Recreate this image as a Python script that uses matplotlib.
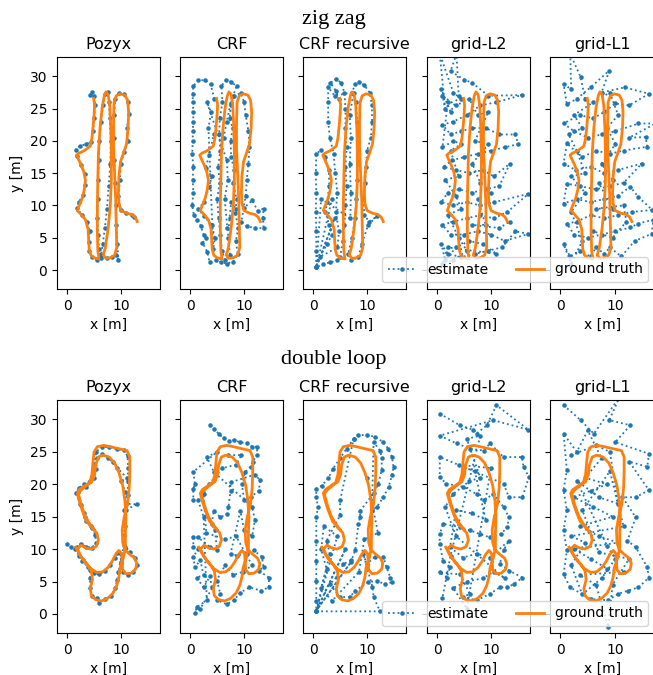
import numpy as np
import matplotlib
matplotlib.use('Agg')
import matplotlib.pyplot as plt

plt.rcParams['font.size'] = 10

METHODS = ['Pozyx', 'CRF', 'CRF recursive', 'grid-L2', 'grid-L1']
ROWS = ['zig zag', 'double loop']

# ground truth paths (x, y) in metres
gt_zigzag = [
    (4.9, 26.6), (5.1, 25.6), (5.0, 24.0), (4.8, 22.0), (4.6, 20.4), (4.3, 19.2), (3.2, 18.5),
    (2.2, 18.1), (1.8, 17.8), (2.1, 17.2), (2.6, 16.3), (3.1, 15.2), (3.4, 13.9), (3.2, 12.5),
    (2.8, 11.1), (2.2, 9.9), (1.9, 9.2), (2.5, 8.7), (3.4, 7.8), (3.9, 6.3), (4.0, 4.6),
    (4.1, 3.2), (4.4, 2.3), (5.0, 1.9), (5.9, 1.7), (5.7, 3.0), (5.6, 6.0), (5.6, 10.0),
    (5.7, 14.0), (5.8, 18.0), (6.1, 22.0), (6.5, 25.2), (6.9, 27.0), (7.2, 27.6), (7.6, 27.2),
    (7.9, 25.5), (8.1, 22.0), (8.2, 18.0), (8.2, 14.0), (8.0, 10.0), (7.6, 6.5), (7.1, 3.5),
    (6.7, 2.3), (7.2, 1.8), (8.0, 1.9), (8.8, 2.3), (9.2, 3.5), (9.1, 7.0), (9.0, 11.0),
    (8.8, 15.0), (8.6, 19.0), (8.6, 23.0), (8.7, 26.0), (9.1, 27.0), (9.8, 27.3), (10.7, 27.1),
    (11.2, 26.3), (11.4, 24.5), (11.3, 22.0), (11.0, 19.5), (10.4, 18.0), (9.9, 16.8), (9.6, 14.5),
    (9.5, 12.0), (9.6, 10.3), (10.0, 9.2), (11.0, 8.8), (12.0, 8.6), (12.6, 8.2), (13.0, 7.5),
]
gt_doubleloop = [
    (1.6, 10.3), (2.3, 9.2), (3.3, 8.0), (4.4, 7.0), (5.5, 6.4), (6.6, 6.5), (7.6, 7.2),
    (8.4, 8.2), (9.0, 9.2), (9.6, 9.8), (10.1, 9.3), (10.2, 8.0), (10.3, 6.8), (10.9, 6.2),
    (11.9, 6.3), (12.7, 6.9), (12.9, 7.8), (12.5, 8.6), (11.6, 9.2), (10.7, 9.9), (10.3, 11.0),
    (10.2, 13.0), (10.6, 15.0), (11.2, 17.0), (11.5, 19.5), (11.6, 22.0), (11.6, 24.2), (11.1, 25.2),
    (9.5, 25.5), (8.0, 25.8), (6.8, 26.0), (5.6, 25.8), (5.0, 25.0), (4.8, 23.5), (4.6, 21.5),
    (4.2, 20.3), (3.2, 19.7), (2.3, 19.2), (1.9, 18.6), (2.3, 17.3), (2.8, 16.0), (3.6, 14.3),
    (4.6, 13.3), (5.5, 12.5), (5.8, 11.4), (5.4, 10.4), (4.4, 10.0), (3.4, 10.2), (2.6, 10.6),
    (1.9, 10.0), (2.6, 8.8), (3.7, 7.7), (4.5, 6.6), (4.7, 5.3), (4.3, 3.9), (4.5, 2.8),
    (5.3, 2.2), (6.4, 2.0), (7.5, 2.4), (8.5, 3.2), (9.2, 4.4), (9.6, 5.7), (9.8, 7.1),
    (10.4, 8.6), (10.8, 10.2), (10.8, 12.5), (10.9, 15.0), (10.7, 17.5), (10.3, 19.8), (9.6, 21.8),
    (8.8, 23.3), (7.8, 24.2), (6.6, 24.5), (5.8, 24.2), (5.3, 23.0), (5.1, 21.5), (4.6, 20.4),
    (3.6, 19.8), (2.6, 19.1), (2.1, 18.5), (2.6, 16.9), (3.3, 15.2), (4.1, 14.0), (5.0, 13.0),
]

# estimates, zig zag
pozyx_zz = [
    (4.2, 27.1), (4.7, 27.6), (5.0, 27.0), (5.2, 25.5), (5.0, 23.5), (4.8, 21.5), (4.4, 19.8),
    (3.5, 19.5), (2.4, 19.2), (1.6, 18.6), (1.8, 17.6), (2.6, 16.3), (3.3, 14.9), (3.4, 13.2),
    (3.0, 11.6), (2.2, 10.6), (1.8, 9.6), (2.7, 8.6), (3.7, 7.4), (4.2, 6.0), (4.0, 4.4),
    (4.1, 3.0), (4.7, 2.0), (5.5, 1.6), (6.3, 1.9), (5.9, 3.2), (5.8, 5.5), (5.6, 8.0),
    (5.7, 11.0), (5.7, 14.0), (5.9, 17.0), (6.0, 20.0), (6.3, 23.0), (6.6, 25.5), (7.0, 27.3),
    (7.5, 27.6), (7.8, 26.0), (7.9, 23.5), (8.1, 20.0), (8.0, 16.5), (7.7, 13.0), (7.4, 9.5),
    (7.0, 6.5), (6.6, 4.0), (6.3, 2.3), (7.3, 1.8), (8.4, 2.0), (9.1, 2.4), (9.5, 1.6),
    (9.3, 4.0), (9.1, 7.0), (9.1, 10.0), (8.9, 13.5), (8.7, 17.0), (8.6, 20.5), (8.7, 24.0),
    (8.9, 26.5), (9.6, 27.4), (10.6, 27.2), (11.3, 26.0), (11.4, 24.2), (11.1, 22.0), (11.2, 20.0),
    (10.6, 18.3), (9.9, 16.5), (9.8, 14.0), (9.5, 11.5), (9.9, 9.3), (11.0, 8.8), (12.0, 8.5),
    (12.4, 8.2),
]
crf_zz = [
    (4.5, 26.5), (3.8, 28.8), (2.8, 29.4), (1.5, 29.4), (0.6, 28.5), (0.5, 27.2), (0.5, 26.0),
    (0.6, 24.5), (0.6, 23.0), (0.5, 21.5), (0.5, 20.0), (0.4, 18.0), (0.6, 16.0), (0.5, 14.0),
    (0.6, 12.0), (0.4, 10.0), (0.7, 8.5), (1.3, 7.8), (2.0, 6.8), (2.5, 5.5), (3.0, 5.0),
    (2.3, 4.2), (3.2, 2.8), (3.6, 1.2), (4.8, 1.5), (5.8, 1.2), (6.8, 1.0), (8.0, 1.3),
    (8.8, 2.5), (8.5, 4.5), (8.9, 6.5), (8.4, 8.8), (8.6, 11.0), (8.0, 13.5), (8.2, 15.5),
    (7.6, 17.5), (7.5, 20.0), (7.9, 22.0), (7.3, 23.5), (7.6, 25.5), (8.0, 27.0), (8.6, 28.5),
    (7.5, 29.2), (6.6, 29.4), (5.8, 28.5), (6.0, 26.0), (5.5, 23.5), (5.4, 21.0), (5.6, 18.5),
    (5.2, 16.0), (5.5, 13.5), (5.0, 11.0), (5.3, 8.0), (5.6, 5.5), (5.9, 3.0), (6.5, 1.5),
    (7.4, 2.4), (7.0, 5.0), (7.3, 8.0), (7.6, 10.5), (8.5, 9.5), (10.0, 9.6), (11.5, 10.8),
    (12.5, 9.2), (13.6, 9.5), (13.5, 8.0), (13.6, 6.5), (12.0, 6.5), (10.5, 6.8), (9.5, 7.5),
    (10.3, 11.5), (10.5, 14.0), (10.8, 16.5), (11.0, 19.0), (10.8, 21.5), (10.3, 24.0), (10.0, 26.0),
    (9.4, 27.4), (8.2, 27.0), (7.5, 25.8), (6.8, 23.0), (6.2, 20.5), (4.4, 21.0), (3.5, 17.8),
    (2.9, 15.8), (4.0, 14.5), (3.5, 12.8), (2.6, 10.5), (1.5, 9.5), (2.5, 8.4), (4.0, 7.0),
    (4.6, 5.0), (4.3, 3.2), (3.4, 22.0), (3.9, 24.5), (3.1, 26.0), (6.8, 17.0), (7.0, 14.0),
    (6.4, 11.0), (6.9, 6.5),
]
crfrec_zz = [
    (4.8, 26.5), (4.2, 27.8), (3.2, 29.0), (4.3, 29.6), (5.2, 29.0), (5.8, 27.5), (6.0, 25.0),
    (6.0, 22.0), (6.2, 19.0), (6.0, 16.0), (6.2, 13.0), (6.0, 10.0), (5.8, 7.0), (5.5, 4.5),
    (5.0, 2.0), (4.5, 1.5), (3.2, 1.2), (1.8, 0.9), (0.6, 0.4), (0.6, 3.0), (0.6, 6.0),
    (0.5, 9.0), (0.6, 12.0), (0.5, 15.0), (0.6, 18.0), (1.5, 18.6), (2.2, 17.5), (2.9, 15.5),
    (3.0, 13.0), (2.6, 10.5), (2.3, 9.0), (3.0, 7.0), (3.5, 5.5), (2.6, 4.0), (1.2, 2.0),
    (4.5, 3.5), (4.8, 6.0), (4.2, 9.0), (4.5, 12.0), (4.1, 15.0), (3.8, 18.0), (3.1, 20.5),
    (2.8, 23.0), (2.8, 26.0), (2.8, 28.3), (4.0, 27.0), (7.2, 27.5), (7.8, 28.8), (8.5, 29.2),
    (9.5, 28.6), (10.5, 27.5), (10.9, 25.5), (10.9, 23.0), (10.7, 20.5), (10.0, 18.5), (9.8, 16.0),
    (9.6, 13.5), (9.3, 11.0), (9.5, 8.5), (10.4, 7.5), (11.8, 8.3), (10.2, 7.0), (9.0, 4.0),
    (8.4, 2.0), (7.0, 1.5), (6.5, 2.5), (7.2, 5.0), (7.8, 8.0), (8.0, 11.0), (8.2, 14.0),
    (8.3, 17.0), (8.4, 20.0), (8.2, 23.0), (7.9, 26.0), (7.5, 27.5), (6.8, 24.0), (7.0, 20.5),
    (6.8, 16.5), (7.0, 12.0), (6.9, 8.0), (1.5, 11.0), (0.6, 0.4), (4.0, 8.0), (0.6, 0.4),
    (3.5, 11.0),
]
gridl2_zz = [
    (4.5, 26.5), (3.0, 27.5), (0.5, 33.5), (1.5, 25.0), (0.8, 28.0), (2.5, 24.5), (4.0, 27.0),
    (3.6, 33.5), (2.5, 30.8), (5.0, 29.5), (6.5, 29.0), (9.5, 27.0), (15.7, 27.1), (11.0, 26.0),
    (8.0, 25.5), (5.5, 24.0), (3.0, 23.0), (1.0, 22.5), (2.5, 21.0), (4.5, 21.5), (6.5, 22.0),
    (9.0, 22.0), (11.5, 21.0), (14.5, 21.0), (15.0, 19.5), (12.5, 19.0), (10.0, 18.5), (7.5, 18.0),
    (5.0, 17.5), (2.8, 17.0), (1.2, 16.0), (3.5, 15.5), (6.0, 15.0), (8.5, 15.5), (10.5, 14.5),
    (13.5, 16.5), (11.5, 13.0), (9.0, 12.5), (6.5, 12.0), (4.0, 12.5), (2.0, 12.0), (0.8, 10.5),
    (3.0, 10.0), (5.5, 10.5), (8.0, 10.0), (10.5, 10.5), (16.9, 11.8), (13.0, 9.0), (10.5, 8.0),
    (8.0, 8.5), (5.5, 8.0), (3.0, 7.5), (1.0, 7.0), (2.5, 5.5), (5.0, 5.5), (7.5, 6.0),
    (10.0, 5.5), (12.5, 4.5), (16.9, 5.6), (14.5, 6.0), (12.0, 3.5), (9.5, 3.0), (7.0, 2.5),
    (4.5, 2.0), (2.0, 2.5), (0.8, 4.0), (1.5, 1.5), (3.5, 3.5), (6.0, 4.5), (8.5, 4.0),
    (11.0, 2.5), (2.0, 3.5), (1.0, 1.0), (3.0, 1.5), (5.5, 3.0), (4.0, 5.0), (2.0, 8.5),
    (4.5, 9.5), (3.5, 11.5), (1.5, 14.0), (4.0, 14.5), (2.5, 18.5), (4.5, 19.5), (3.0, 20.0),
    (1.0, 19.0), (2.0, 26.0), (1.0, 27.0), (3.5, 25.5), (6.0, 26.5), (7.5, 24.0), (9.5, 24.5),
    (7.0, 20.0), (9.5, 19.5), (6.5, 16.5), (8.0, 13.5), (10.0, 12.0), (7.5, 11.0), (9.0, 7.0),
    (6.5, 7.0), (11.5, 6.5), (13.5, 7.5),
]
gridl1_zz = [
    (4.5, 26.5), (3.7, 29.9), (1.8, 33.5), (2.0, 28.0), (0.6, 28.8), (1.2, 25.7), (3.0, 26.5),
    (5.5, 28.3), (8.9, 30.9), (7.5, 27.5), (11.7, 28.3), (16.1, 27.3), (12.5, 25.5), (10.0, 25.8),
    (8.0, 24.5), (6.0, 23.5), (3.5, 24.0), (0.6, 22.7), (2.5, 21.5), (5.0, 20.5), (7.5, 21.0),
    (10.0, 21.5), (14.2, 22.7), (17.3, 22.7), (12.5, 20.5), (15.5, 20.6), (15.8, 19.1), (11.5, 18.5),
    (9.0, 18.0), (6.5, 18.5), (4.0, 17.5), (1.2, 19.6), (0.6, 16.5), (2.8, 15.5), (5.5, 16.0),
    (8.0, 15.0), (10.5, 15.5), (14.8, 16.5), (11.5, 13.5), (9.0, 13.0), (6.5, 12.5), (3.5, 13.0),
    (1.2, 13.4), (0.6, 10.3), (3.0, 11.0), (5.5, 10.5), (8.0, 11.0), (10.5, 11.5), (12.7, 12.9),
    (14.2, 11.3), (16.7, 9.3), (13.0, 9.0), (10.5, 8.5), (8.0, 8.0), (5.5, 8.5), (3.0, 7.5),
    (1.2, 7.2), (2.5, 5.5), (5.0, 5.0), (7.5, 5.5), (10.0, 6.0), (12.7, 6.6), (14.2, 7.2),
    (16.9, 7.8), (16.6, 5.6), (13.5, 4.5), (11.1, 2.1), (9.0, 3.5), (8.0, 2.5), (6.5, 3.5),
    (5.5, 2.1), (3.5, 3.0), (1.8, 2.1), (0.6, 4.0), (2.0, 1.0), (4.0, 4.5), (2.0, 9.0),
    (4.5, 12.0), (2.0, 14.5), (4.5, 15.0), (3.0, 18.5), (1.5, 21.0), (4.0, 22.0), (2.5, 24.0),
    (6.0, 26.0), (9.0, 27.5), (10.5, 24.0), (8.5, 22.0), (10.0, 19.5), (7.5, 16.5), (9.5, 14.0),
    (7.0, 13.5), (9.5, 9.5), (6.5, 9.5), (11.5, 10.0), (12.0, 7.5), (9.5, 5.0), (6.0, 6.0),
]

# estimates, double loop
pozyx_dl = [
    (0.0, 10.8), (0.8, 10.3), (1.5, 10.0), (2.2, 9.0), (3.0, 8.3), (3.9, 7.3), (5.0, 6.3),
    (5.9, 6.1), (7.0, 6.6), (8.0, 7.5), (8.8, 8.6), (9.3, 9.4), (9.9, 9.2), (10.0, 7.8),
    (10.4, 6.5), (11.2, 6.0), (12.2, 6.4), (13.0, 7.6), (12.6, 8.7), (11.6, 9.6), (10.8, 10.4),
    (10.6, 12.2), (10.5, 14.2), (10.9, 16.0), (11.3, 18.3), (11.2, 20.5), (11.3, 22.5), (11.2, 24.3),
    (10.6, 25.3), (9.2, 25.4), (7.8, 25.7), (6.4, 25.8), (5.4, 25.0), (5.0, 23.2), (4.8, 21.6),
    (4.2, 20.5), (3.2, 20.0), (2.3, 19.5), (1.7, 18.6), (2.5, 16.8), (3.1, 15.5), (3.5, 14.3),
    (4.7, 13.2), (5.2, 12.2), (5.4, 11.0), (4.6, 10.2), (3.5, 10.4), (2.5, 10.8), (1.9, 10.4),
    (2.8, 8.2), (4.3, 6.8), (4.3, 5.5), (4.2, 4.0), (4.6, 2.8), (5.5, 2.4), (6.0, 1.7),
    (7.0, 2.3), (8.2, 2.8), (8.9, 4.0), (9.3, 5.3), (9.5, 6.5), (9.9, 8.0), (10.5, 10.6),
    (10.8, 13.5), (10.6, 16.0), (13.0, 16.9), (11.0, 17.0), (10.8, 18.8), (10.0, 20.5), (11.1, 21.0),
    (9.3, 22.5), (8.5, 23.4), (7.5, 24.1), (6.4, 24.6), (5.6, 24.0), (5.4, 22.4), (4.9, 21.0),
    (3.5, 19.6), (2.0, 18.8), (2.4, 17.0), (3.3, 15.0), (4.4, 13.6),
]
crf_dl = [
    (3.7, 29.1), (4.5, 28.5), (5.3, 27.8), (6.2, 27.1), (7.2, 26.6), (8.1, 26.8), (9.3, 26.5),
    (10.5, 26.3), (11.5, 25.8), (12.4, 25.8), (12.4, 24.5), (11.6, 23.5), (11.2, 22.7), (10.2, 21.9),
    (9.6, 20.0), (10.0, 17.5), (11.2, 18.0), (12.7, 19.0), (13.0, 20.6), (12.0, 21.5), (7.5, 20.3),
    (7.5, 19.0), (7.1, 16.5), (6.8, 15.4), (5.6, 14.9), (4.4, 15.9), (4.0, 13.9), (4.6, 12.9),
    (5.0, 9.8), (3.7, 10.3), (1.5, 11.8), (0.6, 11.8), (0.6, 10.3), (1.5, 10.0), (0.6, 8.8),
    (0.9, 7.2), (1.9, 8.3), (2.5, 6.0), (1.2, 5.6), (2.5, 4.1), (3.7, 5.8), (4.0, 4.1),
    (5.0, 5.1), (5.6, 3.1), (5.0, 2.1), (6.8, 1.5), (8.1, 2.1), (9.3, 3.3), (11.0, 4.1),
    (13.1, 3.6), (14.6, 4.1), (14.6, 5.6), (12.7, 6.7), (13.6, 7.2), (13.3, 8.8), (11.8, 9.8),
    (10.5, 9.3), (8.7, 9.0), (7.5, 9.3), (9.3, 15.9), (10.0, 13.0), (11.5, 12.0), (12.0, 14.5),
    (11.5, 16.5), (4.4, 21.9), (3.1, 24.2), (5.0, 25.0), (0.6, 21.9), (0.9, 20.1), (0.6, 19.3),
    (0.6, 17.5), (1.5, 17.5), (2.5, 15.0), (3.1, 2.1), (1.2, 1.0), (0.9, 0.1), (1.9, 0.8),
    (6.5, 7.5), (8.0, 6.0), (9.8, 6.5), (11.5, 7.5), (8.5, 12.0), (6.5, 11.5), (3.0, 12.5),
    (2.5, 18.5), (3.5, 20.0), (6.0, 22.5), (8.5, 23.0), (9.5, 24.5), (7.0, 24.5),
]
crfrec_dl = [
    (7.5, 27.0), (8.4, 27.6), (10.0, 27.6), (11.5, 27.3), (13.0, 26.5), (13.9, 25.5), (14.6, 24.2),
    (14.9, 22.6), (14.6, 21.4), (14.0, 19.6), (13.0, 18.0), (11.8, 16.5), (10.9, 16.0), (11.2, 26.5),
    (12.4, 25.2), (12.7, 24.0), (12.7, 22.2), (12.1, 20.1), (11.2, 18.6), (8.7, 15.9), (8.7, 14.9),
    (8.4, 13.9), (7.8, 9.8), (7.1, 8.3), (5.6, 7.7), (4.4, 5.7), (3.1, 4.6), (5.0, 2.6),
    (6.8, 2.6), (7.8, 3.6), (10.2, 4.9), (11.8, 5.1), (13.3, 4.6), (14.6, 4.9), (14.3, 5.6),
    (13.6, 7.2), (13.0, 8.8), (11.5, 8.8), (9.9, 7.7), (9.3, 9.3), (11.0, 4.1), (11.2, 2.6),
    (12.4, 0.4), (0.6, 0.4), (0.6, 2.0), (0.6, 5.1), (0.6, 8.2), (0.6, 11.3), (0.6, 14.9),
    (0.9, 16.5), (0.6, 18.0), (0.6, 19.3), (1.6, 19.8), (2.8, 20.9), (3.7, 22.4), (5.0, 24.0),
    (6.2, 25.5), (7.5, 27.0), (5.0, 17.5), (5.0, 15.2), (2.5, 11.3), (3.1, 9.3), (0.6, 0.5),
    (6.0, 10.0), (0.6, 0.5), (7.0, 8.0), (0.6, 0.5), (4.5, 12.0), (2.0, 13.5), (1.5, 10.0),
    (2.5, 7.0), (1.5, 4.0), (3.5, 2.0), (8.5, 6.5), (9.5, 11.5), (12.0, 12.5), (10.0, 21.0),
]
gridl2_dl = [
    (0.5, 30.9), (4.2, 29.1), (6.7, 28.4), (7.3, 27.8), (9.2, 29.1), (11.0, 32.2), (16.9, 28.4),
    (10.4, 29.9), (0.5, 27.5), (3.6, 26.3), (6.1, 25.5), (8.6, 25.2), (9.8, 26.3), (12.3, 24.2),
    (15.7, 24.2), (16.0, 22.7), (17.0, 21.1), (15.8, 18.0), (13.3, 18.0), (12.3, 20.1), (0.5, 24.2),
    (0.5, 21.1), (1.7, 20.1), (4.8, 19.6), (7.3, 18.5), (8.6, 17.5), (10.4, 18.5), (12.3, 16.5),
    (13.3, 14.9), (13.0, 13.4), (11.8, 12.3), (9.8, 11.8), (8.0, 12.3), (6.1, 12.9), (4.2, 13.4),
    (1.1, 13.9), (0.5, 12.3), (0.5, 10.8), (1.1, 8.2), (2.4, 7.2), (1.8, 5.6), (0.5, 6.4),
    (4.2, 6.1), (6.1, 3.1), (4.8, 2.6), (7.3, 2.1), (9.8, 3.1), (11.6, 4.1), (13.0, 4.1),
    (14.2, 4.6), (15.8, 5.6), (13.3, 6.7), (11.6, 7.7), (12.3, 9.8), (13.3, 11.3), (9.8, 8.7),
    (7.3, 9.3), (4.8, 8.7), (2.4, 10.3), (3.5, 16.0), (6.5, 15.5), (9.0, 14.5), (7.0, 22.0),
    (4.0, 23.0), (10.0, 22.5), (5.5, 0.8), (3.0, 4.0), (5.5, 5.0), (8.5, 5.5), (10.5, 6.5),
    (12.5, 5.5), (3.5, 12.0), (1.5, 16.5), (3.0, 18.5), (6.0, 20.5), (8.0, 21.0), (5.5, 27.0),
    (8.0, 27.5), (2.5, 9.0), (1.0, 2.5),
]
gridl1_dl = [
    (0.6, 32.2), (3.7, 29.9), (6.1, 27.8), (10.8, 33.5), (8.9, 29.9), (12.7, 29.1), (10.0, 26.5),
    (16.1, 24.7), (15.8, 22.7), (12.5, 23.5), (16.1, 19.1), (13.7, 18.0), (11.3, 18.0), (13.7, 14.9),
    (12.2, 11.3), (13.7, 10.3), (15.8, 7.2), (16.1, 5.6), (14.2, 4.1), (12.3, 3.6), (10.5, 3.1),
    (8.7, 2.1), (5.6, 2.3), (1.8, 4.1), (0.6, 6.1), (1.2, 9.8), (0.6, 12.9), (1.2, 16.0),
    (0.6, 19.1), (1.2, 22.2), (0.6, 27.8), (3.0, 25.0), (5.0, 28.3), (7.5, 24.0), (4.5, 21.0),
    (8.5, 20.0), (2.5, 18.0), (6.0, 16.5), (9.5, 15.0), (3.5, 13.5), (7.0, 12.0), (10.5, 11.0),
    (2.5, 10.0), (5.5, 8.5), (8.5, 7.0), (11.5, 6.5), (3.5, 6.0), (6.5, 4.5), (8.7, -2.0),
    (9.5, 4.5), (12.5, 8.5), (7.0, 9.5), (4.0, 16.0), (9.0, 22.0), (11.5, 13.5), (2.0, 12.0),
    (4.5, 11.0), (2.0, 7.5), (4.0, 3.0), (7.5, 5.5), (10.0, 8.5), (8.5, 10.5), (3.0, 20.5),
    (5.5, 19.0), (7.0, 18.0), (10.5, 17.0), (9.0, 25.0), (6.5, 26.0), (2.0, 24.5),
]

ESTIMATES = [
    [pozyx_zz, crf_zz, crfrec_zz, gridl2_zz, gridl1_zz],
    [pozyx_dl, crf_dl, crfrec_dl, gridl2_dl, gridl1_dl],
]
GROUND_TRUTH = [gt_zigzag, gt_doubleloop]

W, H = 653, 675
LEFTS = [57, 180, 303, 427, 550]
AX_W = 103
ROW_TOP = [57, 400]
ROW_BOT = [289, 633]
ROW_TITLE_Y = [24, 364]

fig = plt.figure(figsize=(W / 100, H / 100), dpi=100)

for r in range(2):
    gt = np.array(GROUND_TRUTH[r]).T
    for c, name in enumerate(METHODS):
        w = AX_W + (2 if c == 4 else 0)
        ax = fig.add_axes([LEFTS[c] / W, 1 - ROW_BOT[r] / H,
                           w / W, (ROW_BOT[r] - ROW_TOP[r]) / H])
        est = np.array(ESTIMATES[r][c]).T
        ax.plot(est[0], est[1], '.:', color='C0', ms=4.5, lw=1.3, label='estimate')
        ax.plot(gt[0], gt[1], '-', color='C1', lw=2, label='ground truth')
        ax.set_xlim(-1.86, 17.2)
        ax.set_ylim(-2.94, 33.0)
        ax.set_xticks([0, 10])
        ax.set_yticks([0, 5, 10, 15, 20, 25, 30])
        ax.set_title(name, fontsize=11.5)
        ax.set_xlabel('x [m]')
        if c == 0:
            ax.set_ylabel('y [m]')
        else:
            ax.set_yticklabels([])
        if c == 4:
            ax.legend(loc='lower right', ncol=2)
    fig.text(0.511, 1 - ROW_TITLE_Y[r] / H, ROWS[r], ha='center', va='baseline',
             family='Liberation Serif', fontsize=16)

fig.savefig('out.png', dpi=100)
